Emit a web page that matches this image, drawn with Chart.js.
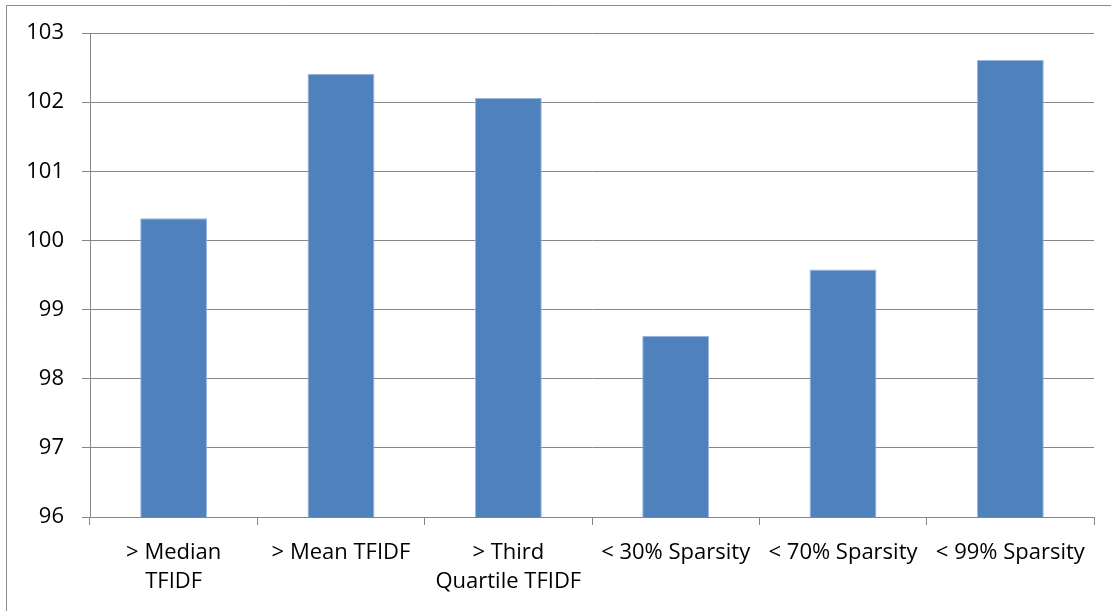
<!DOCTYPE html>
<html>
<head>
<meta charset="utf-8">
<script src="https://cdn.jsdelivr.net/npm/chart.js@4"></script>
<style>
  html, body { margin: 0; padding: 0; background: #fff; }
  #wrap { width: 1111px; height: 611px; position: relative; }
</style>
</head>
<body>
<div id="wrap"><canvas id="myChart"></canvas></div>
<script>
// categories and values
const categories = [
  ["> Median", "TFIDF"],
  "> Mean TFIDF",
  ["> Third", "Quartile TFIDF"],
  "< 30% Sparsity",
  "< 70% Sparsity",
  "< 99% Sparsity"
];
const values = [100.32, 102.41, 102.06, 98.62, 99.58, 102.61];
const yMin = 96;
const yMax = 103;

const labelFont = { family: "'Open Sans', sans-serif", size: 22, lineHeight: 1.32 };

// thin frame along the top and left edge, like the original image
const framePlugin = {
  id: "frame",
  afterDraw(chart) {
    const ctx = chart.ctx;
    ctx.save();
    ctx.strokeStyle = "#8c8c8c";
    ctx.lineWidth = 1;
    ctx.beginPath();
    ctx.moveTo(6.5, 611);
    ctx.lineTo(6.5, 5.5);
    ctx.lineTo(1111, 5.5);
    ctx.stroke();
    ctx.restore();
  }
};

const ctx = document.getElementById("myChart").getContext("2d");
new Chart(ctx, {
  type: "bar",
  data: {
    labels: categories,
    datasets: [{
      data: values,
      backgroundColor: "#4f81bd",
      borderColor: "#9cb7dc",
      borderWidth: 1,
      barPercentage: 0.8,
      categoryPercentage: 0.5
    }]
  },
  options: {
    responsive: true,
    maintainAspectRatio: false,
    animation: false,
    layout: { padding: { top: 33, right: 17, left: 0, bottom: 0 } },
    plugins: {
      legend: { display: false },
      tooltip: { enabled: false }
    },
    scales: {
      x: {
        grid: {
          display: true,
          drawOnChartArea: false,
          drawTicks: true,
          tickLength: 8,
          color: "#868686",
          offset: true
        },
        border: { display: true, color: "#868686", width: 1 },
        ticks: {
          color: "#000",
          font: labelFont,
          padding: 13,
          maxRotation: 0,
          autoSkip: false
        },
        afterFit(scale) { scale.height = 611 - 517; }
      },
      y: {
        min: yMin,
        max: yMax,
        grid: {
          color: "#868686",
          tickLength: 8,
          lineWidth: 1
        },
        border: { display: true, color: "#868686", width: 1 },
        ticks: {
          stepSize: 1,
          color: "#000",
          font: labelFont,
          padding: 18
        },
        afterFit(scale) { scale.width = 90; }
      }
    }
  },
  plugins: [framePlugin]
});
</script>
</body>
</html>
